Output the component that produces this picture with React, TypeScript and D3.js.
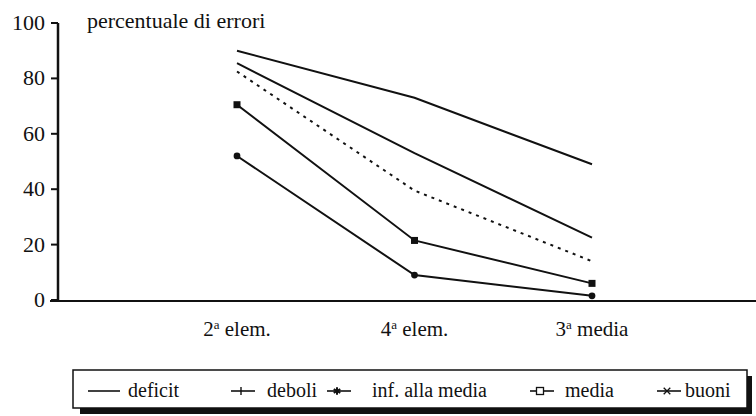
import { useEffect, useRef } from 'react'
import * as d3 from 'd3'

// Grades on the x axis (number + superscript + rest)
const CATEGORIES = ['2a elem.', '4a elem.', '3a media']
const CAT_PARTS: [string, string, string][] = [
  ['2', 'a', ' elem.'],
  ['4', 'a', ' elem.'],
  ['3', 'a', ' media'],
]
const Y_TICKS = [0, 20, 40, 60, 80, 100]

// percentuale di errori per group
const DEFICIT = [90, 73, 49]
const DEBOLI = [85.5, 53, 22.5]
const INF_MEDIA = [82.5, 39.5, 14]
const MEDIA = [70.5, 21.5, 6]
const BUONI = [52, 9, 1.5]

const SERIES = [
  { name: 'deficit', values: DEFICIT, dash: null, marker: 'none', legend: 'line' },
  { name: 'deboli', values: DEBOLI, dash: null, marker: 'none', legend: 'plus' },
  { name: 'inf. alla media', values: INF_MEDIA, dash: '3 5', marker: 'none', legend: 'star' },
  { name: 'media', values: MEDIA, dash: null, marker: 'square', legend: 'square' },
  { name: 'buoni', values: BUONI, dash: null, marker: 'dot', legend: 'cross' },
]

// legend layout: [marker start, text start]
const LEGEND_X = [[88, 128], [231, 267], [327, 372], [530, 565], [657, 685]]

const FONT = "'Liberation Serif', 'Times New Roman', Times, serif"

export default function App() {
  const svgRef = useRef<SVGSVGElement>(null)

  useEffect(() => {
    const svg = d3.select(svgRef.current)
    svg.selectAll('*').remove()

    const x = d3.scalePoint<string>().domain(CATEGORIES).range([237, 592])
    const y = d3.scaleLinear().domain([0, 100]).range([300, 23])

    const g = svg.append('g').attr('fill', '#111')

    const text = (parent: d3.Selection<SVGGElement, unknown, null, undefined>, size: number) =>
      parent.append('text')
        .style('font-family', FONT)
        .style('font-size', `${size}px`)
        .style('fill', '#111')

    // y axis
    g.append('line')
      .attr('x1', 58).attr('x2', 58)
      .attr('y1', y(100)).attr('y2', y(0) + 1)
      .attr('stroke', '#111').attr('stroke-width', 2.5)
    Y_TICKS.forEach(t => {
      g.append('line')
        .attr('x1', 51).attr('x2', 58)
        .attr('y1', y(t)).attr('y2', y(t))
        .attr('stroke', '#111').attr('stroke-width', 2)
      text(g, 22)
        .attr('x', 45).attr('y', y(t) + 7)
        .attr('text-anchor', 'end')
        .text(t)
    })

    // x axis
    g.append('line')
      .attr('x1', 50).attr('x2', 756)
      .attr('y1', y(0) + 1).attr('y2', y(0) + 1)
      .attr('stroke', '#111').attr('stroke-width', 2)

    CATEGORIES.forEach((c, i) => {
      const [n, sup, rest] = CAT_PARTS[i]
      const tx = text(g, 21)
        .attr('x', x(c)!).attr('y', 336)
        .attr('text-anchor', 'middle')
      tx.append('tspan').text(n)
      tx.append('tspan').attr('dy', -7).style('font-size', '13px').text(sup)
      tx.append('tspan').attr('dy', 7).text(rest)
    })

    text(g, 22)
      .attr('x', 87).attr('y', 28)
      .text('percentuale di errori')

    // series lines
    const line = d3.line<number>()
      .x((_, i) => x(CATEGORIES[i])!)
      .y(d => y(d))

    SERIES.forEach(s => {
      g.append('path')
        .attr('d', line(s.values))
        .attr('fill', 'none')
        .attr('stroke', '#111')
        .attr('stroke-width', 2)
        .attr('stroke-dasharray', s.dash)
      if (s.marker === 'square') {
        s.values.forEach((v, i) => {
          g.append('rect')
            .attr('x', x(CATEGORIES[i])! - 3.5).attr('y', y(v) - 3.5)
            .attr('width', 7).attr('height', 7)
            .attr('fill', '#111')
        })
      } else if (s.marker === 'dot') {
        s.values.forEach((v, i) => {
          g.append('path')
            .attr('transform', `translate(${x(CATEGORIES[i])},${y(v)})`)
            .attr('d', d3.symbol(d3.symbolCircle, 36)())
            .attr('fill', '#111')
        })
      }
    })

    // legend box with shadow
    const lg = g.append('g')
    lg.append('rect')
      .attr('x', 80).attr('y', 376).attr('width', 672).attr('height', 38)
      .attr('fill', '#111')
    lg.append('rect')
      .attr('x', 73).attr('y', 370).attr('width', 674).attr('height', 38)
      .attr('fill', '#fff').attr('stroke', '#111').attr('stroke-width', 1.5)

    const ly = 391
    SERIES.forEach((s, i) => {
      const [mx, tx] = LEGEND_X[i]
      const w = s.legend === 'line' ? 32 : 24
      lg.append('line')
        .attr('x1', mx).attr('x2', mx + w)
        .attr('y1', ly).attr('y2', ly)
        .attr('stroke', '#111').attr('stroke-width', 1.6)
      const cx = mx + w / 2 - 2
      if (s.legend === 'plus') {
        lg.append('line')
          .attr('x1', cx).attr('x2', cx).attr('y1', ly - 4).attr('y2', ly + 4)
          .attr('stroke', '#111').attr('stroke-width', 1.4)
      } else if (s.legend === 'star') {
        lg.append('path')
          .attr('transform', `translate(${cx},${ly})`)
          .attr('d', d3.symbol(d3.symbolAsterisk, 40)())
          .attr('stroke', '#111').attr('stroke-width', 2)
      } else if (s.legend === 'square') {
        lg.append('rect')
          .attr('x', cx - 3.5).attr('y', ly - 3.5).attr('width', 7).attr('height', 7)
          .attr('fill', '#fff').attr('stroke', '#111').attr('stroke-width', 1.3)
      } else if (s.legend === 'cross') {
        lg.append('path')
          .attr('transform', `translate(${cx},${ly})`)
          .attr('d', d3.symbol(d3.symbolTimes, 30)())
          .attr('stroke', '#111').attr('stroke-width', 1.3)
      }
      text(lg, 20)
        .attr('x', tx).attr('y', ly + 6)
        .text(s.name)
    })
  }, [])

  return (
    <svg
      ref={svgRef}
      width={756}
      height={416}
      style={{ position: 'absolute', left: 0, top: 0, display: 'block', background: '#fff' }}
    />
  )
}
